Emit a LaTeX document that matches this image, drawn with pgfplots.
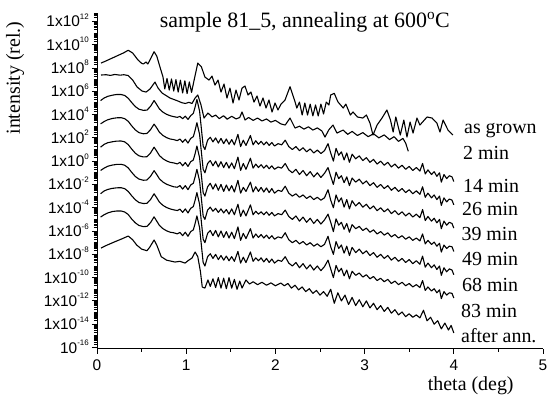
\documentclass[border=0pt]{standalone}
\usepackage{pgfplots}
\pgfplotsset{compat=1.18}
\usepackage{pgfplotstable}
\usepackage{fontspec}
\setmainfont{Liberation Serif}
\newfontfamily\arial{Liberation Sans}
\newcommand\ylab[1]{1x10\raisebox{7.5bp}{\fontsize{8}{8}\selectfont #1}}
\newcommand\ylabb[1]{10\raisebox{7.5bp}{\fontsize{8}{8}\selectfont #1}}
\def\mlist{-16}
\foreach \d in {-16,...,12}{\foreach \k in {1,...,9}{\pgfmathparse{\d+log10(\k)}\xdef\mlist{\mlist,\pgfmathresult}}}

\pgfplotstableread{
x a b c d e f
0.04 5.20 3.20 1.20 -0.80 -2.80 -4.80
0.08 5.42 3.40 1.44 -0.60 -2.56 -4.60
0.12 5.56 3.55 1.58 -0.44 -2.43 -4.45
0.17 5.66 3.66 1.66 -0.34 -2.34 -4.33
0.22 5.72 3.72 1.72 -0.28 -2.29 -4.28
0.27 5.72 3.73 1.73 -0.27 -2.28 -4.28
0.31 5.64 3.65 1.66 -0.35 -2.36 -4.36
0.35 5.40 3.42 1.42 -0.58 -2.60 -4.58
0.39 5.02 3.02 1.03 -0.97 -2.98 -4.98
0.43 4.68 2.68 0.68 -1.32 -3.32 -5.30
0.47 4.46 2.45 0.46 -1.54 -3.55 -5.52
0.52 4.36 2.35 0.36 -1.64 -3.64 -5.62
0.56 4.38 2.38 0.38 -1.62 -3.62 -5.60
0.60 4.70 2.70 0.70 -1.30 -3.30 -5.28
0.64 5.20 3.18 1.20 -0.82 -2.80 -4.78
0.67 4.85 2.85 0.85 -1.15 -3.15 -5.15
0.70 4.48 2.48 0.48 -1.52 -3.52 -5.52
0.74 4.20 2.20 0.20 -1.80 -3.80 -5.80
0.78 4.02 2.02 0.02 -1.98 -3.98 -5.98
0.82 3.90 1.90 -0.10 -2.10 -4.10 -6.10
0.86 3.82 1.85 -0.15 -2.20 -4.18 -6.15
0.90 3.76 1.76 -0.24 -2.24 -4.24 -6.24
0.93 3.84 1.90 -0.10 -2.10 -4.12 -6.12
0.96 3.65 1.62 -0.40 -2.40 -4.40 -6.40
0.99 3.86 1.88 -0.12 -2.10 -4.10 -6.10
1.02 3.58 1.55 -0.45 -2.45 -4.45 -6.45
1.05 3.90 1.95 -0.05 -2.05 -4.05 -6.05
1.08 4.10 2.10 0.10 -1.90 -3.90 -5.90
1.10 4.65 2.65 0.65 -1.35 -3.35 -5.35
1.12 5.30 3.30 1.30 -0.70 -2.70 -4.70
1.15 4.30 2.30 0.30 -1.70 -3.70 -5.70
1.17 2.80 0.80 -1.20 -3.20 -5.20 -7.20
1.19 1.30 -0.70 -2.70 -4.70 -6.70 -8.70
1.21 1.00 -1.00 -3.00 -5.00 -7.00 -9.00
1.24 1.80 -0.20 -2.20 -4.20 -6.20 -8.20
1.27 2.05 0.05 -1.90 -3.95 -5.95 -7.95
1.30 1.65 -0.40 -2.40 -4.30 -6.40 -8.35
1.33 2.00 0.00 -1.95 -4.05 -5.95 -8.00
1.36 1.55 -0.50 -2.50 -4.40 -6.50 -8.45
1.39 1.95 -0.05 -2.00 -4.10 -6.00 -8.10
1.42 1.50 -0.55 -2.60 -4.45 -6.55 -8.50
1.45 1.90 -0.10 -2.05 -4.15 -6.05 -8.15
1.48 1.45 -0.60 -2.55 -4.55 -6.60 -8.55
1.51 1.85 -0.15 -2.10 -4.10 -6.10 -8.20
1.54 1.40 -0.65 -2.65 -4.60 -6.65 -8.60
1.58 2.30 0.35 -1.65 -3.70 -5.65 -7.75
1.61 1.25 -0.80 -2.75 -4.75 -6.80 -8.75
1.64 1.80 -0.20 -2.25 -4.20 -6.20 -8.25
1.67 1.35 -0.70 -2.60 -4.70 -6.65 -8.70
1.72 2.20 0.25 -1.80 -3.75 -5.80 -7.80
1.75 1.40 -0.60 -2.65 -4.60 -6.60 -8.60
1.78 1.75 -0.25 -2.20 -4.30 -6.25 -8.30
1.81 1.45 -0.55 -2.60 -4.55 -6.55 -8.55
1.84 1.70 -0.30 -2.25 -4.35 -6.30 -8.30
1.87 1.40 -0.60 -2.65 -4.60 -6.60 -8.65
1.90 1.65 -0.35 -2.30 -4.35 -6.35 -8.35
1.93 1.35 -0.65 -2.70 -4.65 -6.65 -8.70
1.96 1.60 -0.40 -2.35 -4.40 -6.40 -8.40
1.99 1.30 -0.70 -2.75 -4.70 -6.70 -8.75
2.03 1.50 -0.50 -2.50 -4.50 -6.50 -8.50
2.07 1.40 -0.60 -2.60 -4.60 -6.60 -8.60
2.11 1.80 -0.20 -2.15 -4.20 -6.15 -8.20
2.15 1.25 -0.75 -2.75 -4.75 -6.75 -8.75
2.19 1.00 -1.00 -3.00 -5.00 -7.00 -9.00
2.23 1.25 -0.70 -2.80 -4.70 -6.80 -8.70
2.27 0.90 -1.15 -3.10 -5.15 -7.10 -9.15
2.31 1.15 -0.80 -2.90 -4.80 -6.90 -8.80
2.35 0.80 -1.25 -3.20 -5.25 -7.20 -9.25
2.39 1.05 -0.90 -3.00 -4.90 -7.00 -8.90
2.43 0.70 -1.35 -3.30 -5.35 -7.30 -9.35
2.47 0.95 -1.00 -3.10 -5.00 -7.10 -9.00
2.51 0.65 -1.40 -3.35 -5.40 -7.35 -9.40
2.55 0.90 -1.05 -3.15 -5.05 -7.15 -9.05
2.59 1.50 -0.55 -2.45 -4.55 -6.45 -8.50
2.62 0.70 -1.30 -3.35 -5.25 -7.35 -9.25
2.65 0.00 -2.00 -4.00 -6.05 -8.00 -10.00
2.68 1.10 -0.95 -2.90 -4.95 -6.90 -8.95
2.71 0.50 -1.50 -3.50 -5.50 -7.50 -9.50
2.74 0.80 -1.25 -3.15 -5.25 -7.20 -9.20
2.77 0.10 -1.85 -3.95 -5.85 -7.90 -9.85
2.80 0.70 -1.35 -3.30 -5.35 -7.30 -9.35
2.83 -0.10 -2.10 -4.10 -6.10 -8.10 -10.10
2.86 0.60 -1.45 -3.40 -5.45 -7.40 -9.45
2.90 0.20 -1.80 -3.85 -5.80 -7.85 -9.80
2.94 0.45 -1.55 -3.55 -5.60 -7.55 -9.60
2.98 0.05 -1.95 -3.95 -5.95 -7.95 -9.95
3.02 0.30 -1.70 -3.70 -5.75 -7.70 -9.75
3.06 -0.10 -2.10 -4.10 -6.10 -8.10 -10.10
3.10 0.15 -1.85 -3.85 -5.90 -7.85 -9.90
3.14 -0.25 -2.25 -4.25 -6.25 -8.25 -10.25
3.18 0.00 -2.00 -4.00 -6.05 -8.00 -10.05
3.22 -0.35 -2.35 -4.35 -6.35 -8.35 -10.35
3.26 -0.10 -2.10 -4.10 -6.15 -8.10 -10.15
3.30 -0.50 -2.50 -4.50 -6.50 -8.50 -10.50
3.34 -0.25 -2.25 -4.25 -6.30 -8.25 -10.30
3.38 -0.60 -2.60 -4.60 -6.60 -8.60 -10.60
3.42 -0.35 -2.35 -4.35 -6.40 -8.35 -10.40
3.46 -0.70 -2.70 -4.70 -6.70 -8.70 -10.70
3.50 -0.45 -2.45 -4.45 -6.50 -8.45 -10.50
3.54 -0.80 -2.80 -4.80 -6.80 -8.80 -10.80
3.58 -0.55 -2.55 -4.55 -6.60 -8.55 -10.60
3.62 -0.85 -2.85 -4.85 -6.85 -8.85 -10.85
3.65 -0.20 -2.20 -4.15 -6.25 -8.15 -10.25
3.68 -1.10 -3.10 -5.10 -7.10 -9.10 -11.10
3.71 -0.75 -2.75 -4.75 -6.80 -8.75 -10.80
3.75 -1.15 -3.15 -5.15 -7.15 -9.15 -11.15
3.78 -0.90 -2.90 -4.90 -6.95 -8.90 -10.95
3.81 -1.30 -3.30 -5.30 -7.30 -9.30 -11.30
3.84 -1.00 -3.00 -5.00 -7.05 -9.00 -11.05
3.86 -1.80 -3.80 -5.80 -7.80 -9.80 -11.80
3.89 -1.15 -3.15 -5.15 -7.20 -9.15 -11.20
3.92 -1.50 -3.50 -5.50 -7.50 -9.50 -11.50
3.95 -1.25 -3.25 -5.25 -7.30 -9.25 -11.30
3.98 -1.35 -3.35 -5.35 -7.35 -9.35 -11.35
4.00 -1.75 -3.75 -5.75 -7.75 -9.75 -11.75
}\mid

\begin{document}
\begin{tikzpicture}
\begin{axis}[
  scale only axis, width=446bp, height=335.5bp,
  xmin=0, xmax=5, ymin=-16.1, ymax=12.7,
  axis x line=bottom, axis y line=left, axis line style={-, line width=1pt},
  clip=false,
  tick align=outside,
  major tick length=5bp, minor tick length=3bp,
  every tick/.style={black, line width=0.9pt},
  xtick={0,1,2,3,4,5}, minor x tick num=1,
  ytick={-16,-14,...,12},
  minor ytick/.expanded={\mlist},
  yticklabels={\ylabb{-16},\ylab{-14},\ylab{-12},\ylab{-10},\ylab{-8},\ylab{-6},\ylab{-4},\ylab{-2},\ylab{0},\ylab{2},\ylab{4},\ylab{6},\ylab{8},\ylab{10},\ylab{12}},
  xticklabels={0,1,2,3,4,5},
  yticklabel style={font=\arial\fontsize{15.5}{15.5}\selectfont, anchor=base east, inner sep=0pt, yshift=-5.5bp, xshift=-3bp},
  xticklabel style={font=\arial\fontsize{15.5}{15.5}\selectfont, anchor=north, inner sep=0pt, yshift=-6bp},
  every axis plot post/.append style={black, solid, line width=1.1pt, line join=round, mark=none},
]
\coordinate (SW) at (rel axis cs:0,0);
\coordinate (NE) at (rel axis cs:1,1);
% as grown
\addplot coordinates {
(0.045,8.42)(0.10,8.60)(0.20,8.95)(0.30,9.30)(0.35,9.52)(0.40,9.28)(0.46,8.68)(0.50,8.40)(0.52,8.34)(0.55,8.51)(0.57,8.34)(0.605,8.85)(0.64,9.39)(0.67,9.02)(0.706,8.08)(0.74,7.22)
(0.76,6.20)(0.785,7.10)(0.81,6.10)(0.835,7.05)(0.86,6.02)(0.885,7.00)(0.91,5.93)(0.935,6.95)(0.96,5.85)(0.985,6.90)(1.01,5.80)(1.035,6.80)(1.06,5.90)(1.09,7.00)(1.13,8.42)(1.17,8.10)(1.21,7.22)
(1.256,6.96)(1.289,7.30)(1.323,6.53)(1.357,6.96)(1.39,5.93)(1.424,6.62)(1.457,5.42)(1.491,6.27)(1.525,4.99)(1.558,6.10)(1.592,5.25)(1.626,6.27)(1.659,6.45)(1.693,5.68)(1.726,5.93)(1.76,5.07)(1.794,5.59)(1.827,4.73)(1.861,5.42)(1.895,4.56)(1.928,5.25)(1.962,4.22)(1.996,4.99)(2.029,4.39)(2.063,4.90)
(2.108,5.25)(2.164,6.39)(2.22,5.10)(2.24,4.56)(2.27,5.07)(2.30,3.96)(2.33,4.99)(2.36,3.96)(2.39,4.90)(2.42,3.88)(2.45,4.82)(2.48,3.88)(2.51,4.90)(2.54,4.05)(2.57,5.07)(2.60,4.82)(2.62,5.68)(2.66,5.82)(2.70,5.10)(2.76,4.56)(2.79,4.90)(2.84,3.96)(2.87,4.22)(2.92,3.79)(2.98,3.70)(3.02,3.96)(3.06,3.27)(3.094,2.24)(3.14,3.10)(3.195,3.70)(3.25,4.39)(3.29,3.53)(3.32,2.50)(3.35,3.79)(3.40,2.24)(3.44,3.53)(3.475,2.07)(3.51,3.36)(3.543,2.41)(3.587,3.70)(3.62,3.10)(3.70,3.79)(3.756,3.70)(3.81,3.27)(3.845,2.50)(3.88,3.53)(3.935,2.67)(3.99,2.24)
};
% 2 min
\addplot coordinates {
(0.045,7.39)(0.10,7.42)(0.15,7.36)(0.20,7.44)(0.26,7.38)(0.30,7.42)(0.35,7.35)(0.40,6.96)(0.45,6.36)(0.505,6.02)(0.55,5.93)(0.594,6.19)(0.65,6.79)(0.684,6.28)(0.729,5.85)(0.818,5.42)(0.908,5.16)(0.95,5.02)(0.99,4.95)(1.03,5.05)(1.065,4.95)(1.10,5.42)(1.13,5.68)(1.166,4.82)(1.20,3.70)(1.244,4.13)
(1.29,3.80)(1.33,3.95)(1.37,3.65)(1.42,3.90)(1.46,3.60)(1.51,3.85)(1.56,3.62)(1.60,3.75)(1.626,4.22)(1.66,3.53)(1.70,3.75)(1.75,3.50)(1.80,3.70)(1.85,3.45)(1.90,3.62)(1.95,3.35)(2.00,3.50)(2.06,3.20)(2.11,3.10)(2.164,3.70)(2.22,2.84)(2.27,3.00)(2.32,2.75)(2.37,2.95)(2.42,2.67)(2.47,2.85)(2.52,2.60)(2.556,2.07)(2.60,2.70)(2.646,3.10)(2.69,2.41)(2.76,2.67)(2.81,2.30)(2.86,2.55)(2.92,2.20)(2.98,2.45)(3.04,2.10)(3.10,2.35)(3.16,2.00)(3.22,2.25)(3.28,1.85)(3.33,2.10)(3.38,1.70)(3.43,1.95)(3.46,1.55)(3.49,0.85)
};
\addplot table[x=x,y=a]{\mid};
\addplot table[x=x,y=b]{\mid};
\addplot table[x=x,y=c]{\mid};
\addplot table[x=x,y=d]{\mid};
\addplot table[x=x,y=e]{\mid};
\addplot table[x=x,y=f]{\mid};
% after ann.
\addplot coordinates {
(0.045,-7.46)(0.10,-7.25)(0.20,-6.92)(0.27,-6.70)(0.35,-6.43)(0.40,-6.75)(0.445,-7.20)(0.50,-7.55)(0.56,-7.69)(0.59,-7.40)(0.64,-6.77)(0.67,-7.20)(0.72,-8.20)(0.78,-8.50)(0.874,-8.66)(0.93,-8.60)(0.987,-8.75)(1.02,-8.55)(1.065,-8.32)(1.10,-7.80)(1.13,-8.20)(1.16,-9.50)(1.18,-10.81)(1.21,-10.89)(1.244,-10.20)
(1.27,-10.75)(1.30,-10.10)(1.33,-10.85)(1.36,-10.00)(1.39,-10.90)(1.42,-10.05)(1.45,-10.95)(1.48,-10.00)(1.51,-10.90)(1.54,-10.15)(1.57,-11.00)(1.60,-10.30)(1.626,-10.89)(1.67,-10.20)(1.71,-10.55)(1.75,-10.35)(1.80,-10.60)(1.85,-10.40)(1.90,-10.65)(1.95,-10.45)(2.00,-10.70)(2.06,-10.46)
(2.10,-10.70)(2.14,-10.50)(2.18,-10.90)(2.22,-10.65)(2.26,-11.05)(2.30,-10.80)(2.34,-11.20)(2.38,-10.95)(2.42,-11.35)(2.46,-11.10)(2.50,-11.50)(2.54,-11.20)(2.58,-11.60)(2.62,-11.00)(2.66,-12.20)(2.70,-11.30)(2.74,-12.00)(2.78,-11.50)(2.82,-12.30)(2.86,-11.70)(2.90,-12.40)(2.94,-11.90)(2.98,-12.50)(3.02,-12.00)(3.06,-12.60)(3.10,-12.20)(3.14,-12.75)(3.18,-12.40)(3.22,-12.90)(3.26,-12.55)(3.30,-13.05)(3.34,-12.75)(3.38,-13.20)(3.42,-12.95)(3.46,-13.35)(3.50,-13.10)(3.54,-13.40)(3.58,-13.20)(3.62,-13.45)(3.66,-12.80)(3.70,-13.70)(3.74,-13.40)(3.78,-14.00)(3.82,-13.70)(3.86,-14.40)(3.90,-13.90)(3.94,-14.50)(3.97,-14.10)(4.00,-14.75)
};
\node[anchor=base, font=\fontsize{22}{22}\selectfont, inner sep=0pt] at (axis cs:2.33,11.51) {sample 81\_5, annealing at 600\textsuperscript{o}C};
\node[rotate=90, font=\fontsize{20}{20}\selectfont, inner sep=0pt] at (axis cs:-0.919,7.13) {intensity (rel.)};
\node[anchor=base, font=\fontsize{20}{20}\selectfont, inner sep=0pt, yshift=-42bp] at (axis cs:4.19,-16.1) {theta (deg)};
\begin{scope}[every node/.style={anchor=base west, inner sep=0pt, font=\fontsize{20}{20}\selectfont}]
\node at (axis cs:4.114,2.41) {as grown};
\node at (axis cs:4.103,0.18) {2 min};
\node at (axis cs:4.103,-2.65) {14 min};
\node at (axis cs:4.092,-4.63) {26 min};
\node at (axis cs:4.085,-6.77) {39 min};
\node at (axis cs:4.092,-9.00) {49 min};
\node at (axis cs:4.092,-11.15) {68 min};
\node at (axis cs:4.081,-13.38) {83 min};
\node at (axis cs:4.081,-15.53) {after ann.};
\end{scope}
\end{axis}
\pgfresetboundingbox
\path[use as bounding box] ([xshift=-97bp,yshift=-49.3bp]SW) rectangle ([xshift=4bp,yshift=13.2bp]NE);
\end{tikzpicture}
\end{document}
